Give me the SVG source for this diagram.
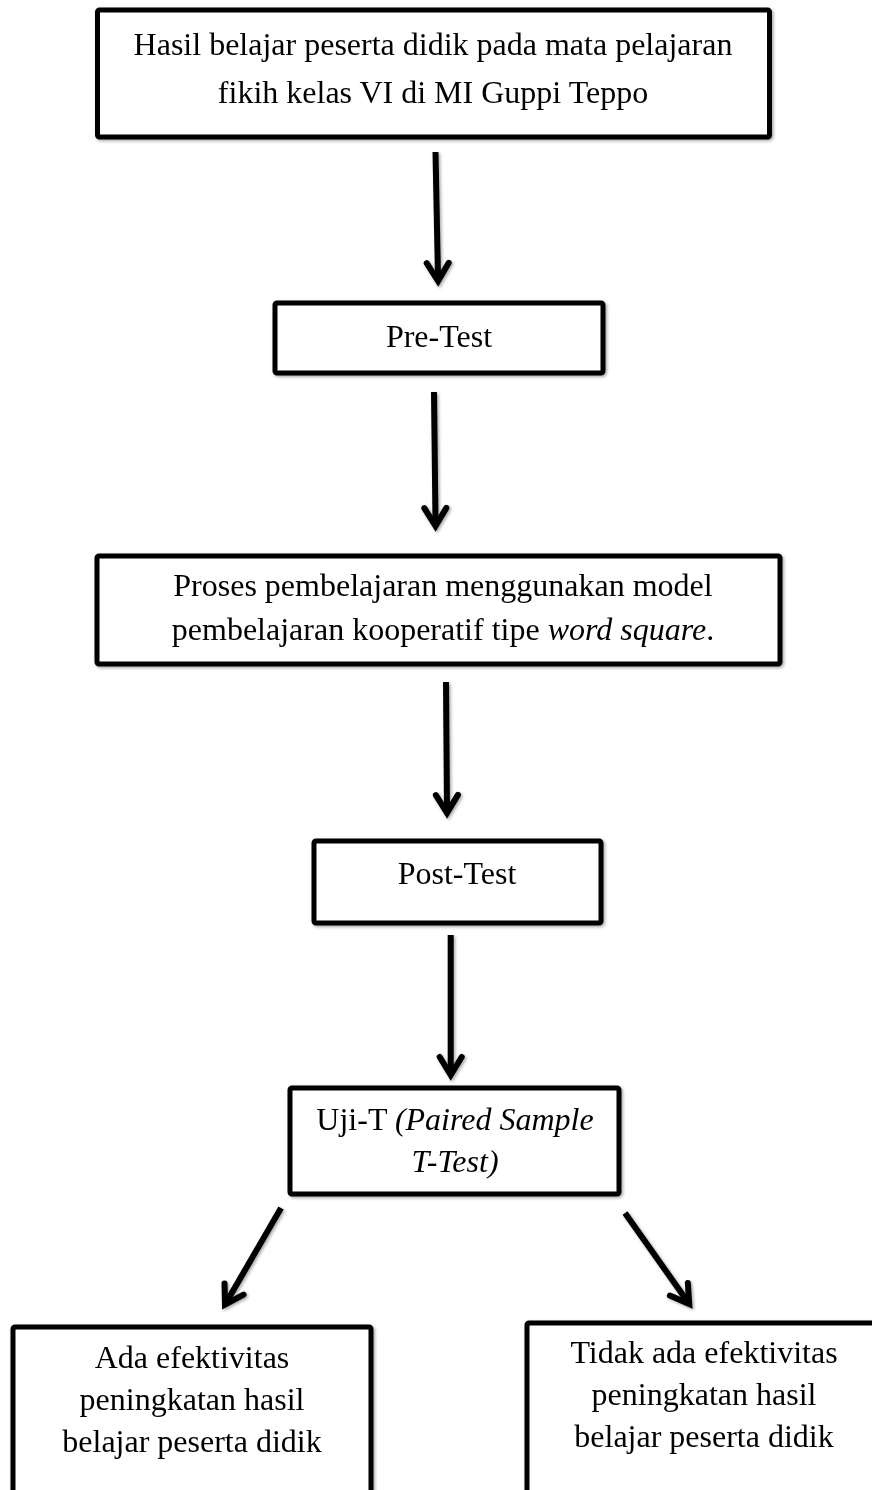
<svg xmlns="http://www.w3.org/2000/svg" width="872" height="1490" viewBox="0 0 872 1490">
  <defs>
    <style>
      .box { fill: #ffffff; stroke: #000000; stroke-width: 5; }
      .txt { font-family: "Liberation Serif", "Times New Roman", serif; font-size: 32px; fill: #000000; text-anchor: middle; }
      .it { font-style: italic; }
      .conn { fill: none; stroke: #000000; stroke-width: 6; marker-end: url(#ah); }
    </style>
    <filter id="sh" x="-10%" y="-10%" width="130%" height="130%">
      <feDropShadow dx="1.5" dy="1.5" stdDeviation="1.5" flood-color="#000" flood-opacity="0.35"/>
    </filter>
    <marker id="ah" markerUnits="userSpaceOnUse" orient="auto" refX="-3" refY="0" markerWidth="40" markerHeight="40" overflow="visible">
      <path d="M-18,-11 L0,0 L-18,11" fill="none" stroke="#000" stroke-width="6" stroke-linecap="round" stroke-linejoin="miter"/>
    </marker>
  </defs>
  <rect width="872" height="1490" fill="#ffffff"/>

  <g id="connectors" filter="url(#sh)">
    <path class="conn" d="M435.5,152 L438,278"/>
    <path class="conn" d="M434,392 L435.5,523"/>
    <path class="conn" d="M446,682 L447,810"/>
    <path class="conn" d="M450.7,935 L450.7,1072"/>
    <path class="conn" d="M281,1208 L226.5,1302"/>
    <path class="conn" d="M625,1213 L687.5,1301.5"/>
  </g>

  <g id="node-hasil" filter="url(#sh)">
    <rect class="box" x="97.5" y="10" width="672" height="127" rx="2"/>
    <text class="txt" x="433" y="55">Hasil belajar peserta didik pada mata pelajaran</text>
    <text class="txt" x="433" y="103">fikih kelas VI di MI Guppi Teppo</text>
  </g>

  <g id="node-pretest" filter="url(#sh)">
    <rect class="box" x="275" y="303" width="328" height="70" rx="2"/>
    <text class="txt" x="439" y="347">Pre-Test</text>
  </g>

  <g id="node-proses" filter="url(#sh)">
    <rect class="box" x="97" y="556" width="683" height="108" rx="2"/>
    <text class="txt" x="443" y="596">Proses pembelajaran menggunakan model</text>
    <text class="txt" x="443" y="640">pembelajaran kooperatif tipe <tspan class="it">word square</tspan>.</text>
  </g>

  <g id="node-posttest" filter="url(#sh)">
    <rect class="box" x="314" y="841" width="287" height="82" rx="2"/>
    <text class="txt" x="457" y="884">Post-Test</text>
  </g>

  <g id="node-ujit" filter="url(#sh)">
    <rect class="box" x="290" y="1088" width="329" height="106" rx="2"/>
    <text class="txt" x="455" y="1130">Uji-T <tspan class="it">(Paired Sample</tspan></text>
    <text class="txt it" x="455" y="1172">T-Test)</text>
  </g>

  <g id="node-ada" filter="url(#sh)">
    <rect class="box" x="13" y="1327" width="358" height="200" rx="2"/>
    <text class="txt" x="192" y="1368">Ada efektivitas</text>
    <text class="txt" x="192" y="1410">peningkatan hasil</text>
    <text class="txt" x="192" y="1452">belajar peserta didik</text>
  </g>

  <g id="node-tidak" filter="url(#sh)">
    <rect class="box" x="527" y="1323" width="370" height="200" rx="2"/>
    <text class="txt" x="704" y="1363">Tidak ada efektivitas</text>
    <text class="txt" x="704" y="1405">peningkatan hasil</text>
    <text class="txt" x="704" y="1447">belajar peserta didik</text>
  </g>
</svg>
